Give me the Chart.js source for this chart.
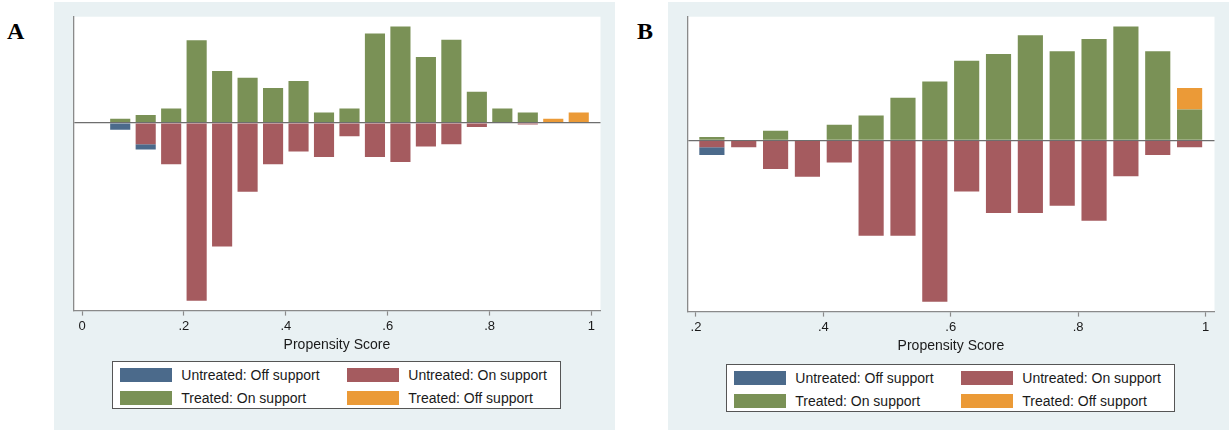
<!DOCTYPE html>
<html>
<head>
<meta charset="utf-8">
<script src="https://cdn.jsdelivr.net/npm/chart.js@4.4.1/dist/chart.umd.min.js"></script>
<style>
  body { margin: 0; width: 1229px; height: 432px; background: #fff; position: relative; overflow: hidden;
         font-family: "Liberation Sans", Arial, sans-serif; }
  .tag { position: absolute; font: bold 24px "Liberation Serif", "Times New Roman", serif; color: #000; }
  .panel { position: absolute; top: 2px; width: 561px; height: 428px; background: #e9f1f3; }
  .panel canvas { position: absolute; left: 0; top: 0; }
  .legend { position: absolute; left: 58px; width: 449px; height: 48px; background: #fff; border: 1px solid #555;
            display: grid; grid-template-columns: 227px 212px; row-gap: 6.6px; padding: 6px 0 0 6.6px; box-sizing: border-box; }
  .item { display: flex; align-items: center; height: 14px; line-height: 14px; font-size: 14px; color: #1a1a1a; white-space: nowrap; }
  .sw { display: inline-block; width: 52px; height: 14px; margin-right: 9.7px; }
</style>
</head>
<body>
<div class="tag" style="left:7px;top:18px">A</div>
<div class="tag" style="left:637px;top:18px">B</div>

<div class="panel" style="left:54px">
  <canvas id="chartA" width="561" height="352"></canvas>
  <div class="legend" id="legendA" style="top:359px"></div>
</div>
<div class="panel" style="left:668px">
  <canvas id="chartB" width="561" height="353"></canvas>
  <div class="legend" id="legendB" style="top:362px"></div>
</div>

<script>
// ---- data (heights in arbitrary frequency units, untreated drawn below zero) ----
const seriesLabels = {
  uOff: 'Untreated: Off support',
  uOn: 'Untreated: On support',
  tOn: 'Treated: On support',
  tOff: 'Treated: Off support'
};
const legendOrder = ['uOff', 'uOn', 'tOn', 'tOff'];

// panel A: bins of width .05, centres
const binsA = [0.075, 0.125, 0.175, 0.225, 0.275, 0.325, 0.375, 0.425, 0.475, 0.525,
               0.575, 0.625, 0.675, 0.725, 0.775, 0.825, 0.875, 0.925, 0.975];
const treatedOnA   = [4, 7.7, 14.3, 83.3, 52.3, 45.3, 35, 42, 10.3, 14.3, 90, 97, 66.3, 83.7, 31.3, 14.3, 10.3, 0, 0];
const treatedOffA  = [0, 0, 0, 0, 0, 0, 0, 0, 0, 0, 0, 0, 0, 0, 0, 0, 0, 4, 10.3];
const untreatedOnA = [0, -21.7, -42, -179.7, -125, -69.7, -42, -29, -34.5, -13.7, -34.7, -39.7, -24, -21.7, -4.3, 0, -1.7, 0, 0];
const untreatedOffA = [-7, -5.3, 0, 0, 0, 0, 0, 0, 0, 0, 0, 0, 0, 0, 0, 0, 0, 0, 0];
const ticksA = [0, 0.2, 0.4, 0.6, 0.8, 1];
const tickLabelsA = ['0', '.2', '.4', '.6', '.8', '1'];

// panel B
const binsB = [0.225, 0.275, 0.325, 0.375, 0.425, 0.475, 0.525, 0.575,
               0.625, 0.675, 0.725, 0.775, 0.825, 0.875, 0.925, 0.975];
const treatedOnB   = [3.3, 0, 9.7, 0, 15.7, 25, 43, 59.3, 80.2, 87, 106, 89.7, 102, 114.7, 89.7, 31];
const treatedOffB  = [0, 0, 0, 0, 0, 0, 0, 0, 0, 0, 0, 0, 0, 0, 0, 21.7];
const untreatedOnB = [-7, -7, -29, -36.7, -22.3, -96.3, -96.3, -162.7, -51.7, -73.3, -73.3, -66, -81, -36.3, -14.7, -7];
const untreatedOffB = [-7.7, 0, 0, 0, 0, 0, 0, 0, 0, 0, 0, 0, 0, 0, 0, 0];
const ticksB = [0.2, 0.4, 0.6, 0.8, 1];
const tickLabelsB = ['.2', '.4', '.6', '.8', '1'];

const colors = { uOff: '#4b6a8b', uOn: '#a55b5f', tOn: '#7a9156', tOff: '#eb9a37' };
const axisGray = '#8a8a8a';
const zeroGray = '#6e6e6e';
const textColor = '#1a1a1a';

const whiteArea = {
  id: 'whiteArea',
  beforeDraw(chart) {
    const a = chart.chartArea, ctx = chart.ctx;
    ctx.save();
    ctx.fillStyle = '#fff';
    ctx.fillRect(a.left, a.top, a.right - a.left, a.bottom - a.top);
    ctx.restore();
  }
};

function makeChart(id, bins, series, xTicks, xLabels, xMin, xMax, yMin, yMax) {
  const pts = arr => bins.map((b, i) => ({ x: b, y: arr[i] === 0 ? null : arr[i] }));
  // stacking order: on-support next to the zero line, off-support beyond
  const order = ['uOn', 'uOff', 'tOn', 'tOff'];
  const datasets = order.map(k => ({
    label: seriesLabels[k],
    data: pts(series[k]),
    backgroundColor: colors[k],
    borderWidth: 0,
    barPercentage: 0.79,
    categoryPercentage: 1
  }));

  return new Chart(document.getElementById(id), {
    type: 'bar',
    data: { datasets: datasets },
    options: {
      responsive: false,
      animation: false,
      layout: { padding: { left: 19.3, right: 14.5, top: 14.7, bottom: 0 } },
      plugins: { legend: { display: false }, tooltip: { enabled: false } },
      scales: {
        x: {
          type: 'linear', stacked: true, offset: false,
          min: xMin, max: xMax,
          afterBuildTicks: s => { s.ticks = xTicks.map(v => ({ value: v })); },
          ticks: {
            autoSkip: false, maxRotation: 0, padding: 3,
            color: textColor,
            font: { family: '"Liberation Sans", Arial, sans-serif', size: 13 },
            callback: (v) => xLabels[xTicks.indexOf(v)]
          },
          grid: { offset: false, drawOnChartArea: false, drawTicks: true, tickLength: 5, tickColor: axisGray, tickWidth: 1.2 },
          border: { color: axisGray, width: 1.3 },
          title: {
            display: true, text: 'Propensity Score', color: textColor,
            font: { family: '"Liberation Sans", Arial, sans-serif', size: 14 },
            padding: { top: 0, bottom: 0 }
          }
        },
        y: {
          stacked: true, min: yMin, max: yMax, z: 1,
          afterBuildTicks: s => { s.ticks = [{ value: 0 }]; },
          ticks: { display: false },
          grid: { drawTicks: false, color: zeroGray, lineWidth: 1.3 },
          border: { color: axisGray, width: 1.3 }
        }
      }
    },
    plugins: [whiteArea]
  });
}

function buildLegend(id) {
  const el = document.getElementById(id);
  legendOrder.forEach(k => {
    const item = document.createElement('div');
    item.className = 'item';
    const sw = document.createElement('span');
    sw.className = 'sw';
    sw.style.background = colors[k];
    item.appendChild(sw);
    item.appendChild(document.createTextNode(seriesLabels[k]));
    el.appendChild(item);
  });
}

makeChart('chartA',
  binsA, { uOn: untreatedOnA, uOff: untreatedOffA, tOn: treatedOnA, tOff: treatedOffA },
  ticksA, tickLabelsA, -0.0171, 1.0177, -189.6, 107);
makeChart('chartB',
  binsB, { uOn: untreatedOnB, uOff: untreatedOffB, tOn: treatedOnB, tOff: treatedOffB },
  ticksB, tickLabelsB, 0.1864, 1.0141, -172.7, 124.6);

buildLegend('legendA');
buildLegend('legendB');
</script>
</body>
</html>
